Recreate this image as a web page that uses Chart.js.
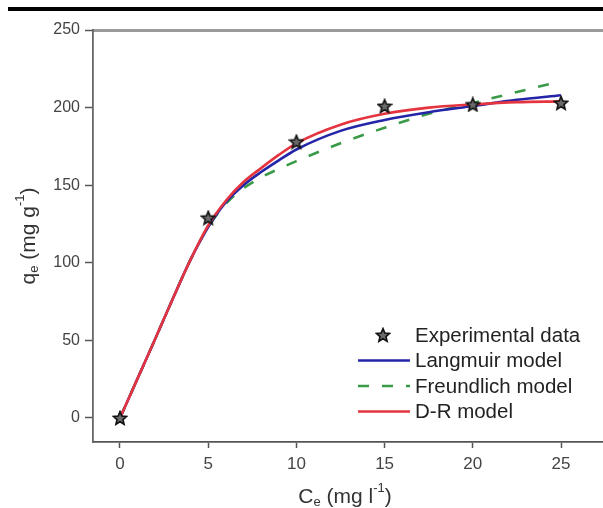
<!DOCTYPE html>
<html><head><meta charset="utf-8">
<script src="https://cdn.jsdelivr.net/npm/chart.js@4"></script>
<style>
html,body{margin:0;padding:0;background:#fff;overflow:hidden}
#wrap{position:relative;width:603px;height:508px;background:#fff}
#bar{position:absolute;left:8px;top:7px;width:595px;height:4px;background:#000}
canvas{position:absolute;left:0;top:0}
</style></head>
<body><div id="wrap"><canvas id="c" width="603" height="508"></canvas><div id="bar"></div></div>
<script>
// ---- data ----
const expX = [0, 5, 10, 15, 20, 25];
const expY = [0, 129, 178, 201, 202, 203];
const modelX = [0, 1, 2, 3, 4, 5, 6, 7, 8, 9, 10, 12.5, 15, 17.5, 20, 22.5, 25];
const langmuirY   = [0, 25.5, 51, 77, 102, 123, 139, 150, 158.5, 166, 173, 185, 192, 197, 201, 205, 208];
const freundlichY = [0, 25.5, 51, 77, 102, 123, 138, 148, 155, 160.5, 165.5, 177, 187, 196, 203, 210, 217];
const drY         = [0, 25.5, 51, 77, 102, 124, 140, 152, 161, 169.5, 177, 189, 196, 200, 202, 203.5, 204];
const xTicks = [0, 5, 10, 15, 20, 25];
const yTicks = [0, 50, 100, 150, 200, 250];
const seriesLabels = ['Experimental data', 'Langmuir model', 'Freundlich model', 'D-R model'];
const xTitle = [['C',0],['e',1],[' (mg l',0],['-1',-1],[')',0]];
const yTitle = [['q',0],['e',1],[' (mg g',0],['-1',-1],[')',0]];

const FONT = '"Liberation Sans", Arial, sans-serif';

function makeStar(size){
  const c = document.createElement('canvas'); c.width = c.height = size;
  const g = c.getContext('2d');
  const cx = size/2, cy = size/2 + 0.6, R = size/2 - 1, r = R*0.45;
  g.beginPath();
  for (let i = 0; i < 10; i++){
    const a = -Math.PI/2 + i*Math.PI/5, rr = i%2 ? r : R;
    g.lineTo(cx + rr*Math.cos(a), cy + rr*Math.sin(a));
  }
  g.closePath();
  g.fillStyle = '#6a6a6a'; g.fill();
  g.strokeStyle = '#111'; g.lineWidth = 1.6; g.stroke();
  return c;
}
const star = makeStar(16);

const pts = (xs, ys) => xs.map((x, i) => ({x, y: ys[i]}));

function richText(ctx, parts, size){
  let w = 0;
  const items = parts.map(([t, s]) => {
    const fs = s === 0 ? size : Math.round(size*0.62);
    ctx.font = fs + 'px ' + FONT;
    const tw = ctx.measureText(t).width;
    const it = {t, s, fs, x: w}; w += tw; return it;
  });
  items.forEach(it => {
    ctx.font = it.fs + 'px ' + FONT;
    const dy = it.s === 1 ? size*0.28 : (it.s === -1 ? -size*0.42 : 0);
    ctx.fillText(it.t, it.x - w/2, dy);
  });
}

const decor = {
  id: 'decor',
  afterDraw(chart){
    const {ctx, chartArea: ca} = chart;
    ctx.save();
    ctx.fillStyle = '#333';
    ctx.textBaseline = 'middle';
    ctx.textAlign = 'left';
    // x title
    ctx.save(); ctx.translate((ca.left + ca.right)/2 - 3, 497); richText(ctx, xTitle, 21); ctx.restore();
    // y title
    ctx.save(); ctx.translate(29, (ca.top + ca.bottom)/2); ctx.rotate(-Math.PI/2); richText(ctx, yTitle, 21); ctx.restore();
    // legend
    const lx = ca.right - 245, ly0 = ca.bottom - 107, dy = 25.5;
    const ds = chart.data.datasets;
    [0, 1, 2, 3].forEach((i, row) => {
      const d = ds[i], y = ly0 + row*dy;
      if (i === 0){
        ctx.drawImage(star, lx + 25 - 8, y - 8);
      } else {
        ctx.save();
        ctx.strokeStyle = d.borderColor; ctx.lineWidth = d.borderWidth;
        ctx.setLineDash(d.borderDash || []);
        ctx.beginPath(); ctx.moveTo(lx, y); ctx.lineTo(lx + 52, y); ctx.stroke();
        ctx.restore();
      }
      ctx.fillStyle = '#222';
      ctx.font = '20.5px ' + FONT;
      ctx.fillText(d.label, lx + 57, y + 1);
    });
    ctx.restore();
  }
};

new Chart(document.getElementById('c'), {
  type: 'line',
  data: {
    datasets: [
      { label: seriesLabels[0], data: pts(expX, expY), showLine: false,
        pointStyle: star, pointRadius: 8, order: 0 },
      { label: seriesLabels[1], data: pts(modelX, langmuirY), borderColor: '#2424a8',
        borderWidth: 2.6, pointRadius: 0, cubicInterpolationMode: 'monotone', order: 2 },
      { label: seriesLabels[2], data: pts(modelX, freundlichY), borderColor: '#3a9a48',
        borderWidth: 2.6, borderDash: [11, 13], pointRadius: 0, cubicInterpolationMode: 'monotone', order: 3 },
      { label: seriesLabels[3], data: pts(modelX, drY), borderColor: '#e4343f',
        borderWidth: 2.6, pointRadius: 0, cubicInterpolationMode: 'monotone', order: 1 }
    ]
  },
  options: {
    responsive: false, animation: false,
    layout: { autoPadding: false, padding: { top: 30, right: 0, left: 0, bottom: 0 } },
    plugins: { legend: { display: false }, tooltip: { enabled: false } },
    scales: {
      x: {
        type: 'linear', position: 'bottom', min: -1.53, max: 27.38,
        afterBuildTicks: s => { s.ticks = xTicks.map(v => ({value: v})); },
        afterFit: s => { s.height = 66; },
        grid: { drawOnChartArea: false, drawTicks: true, tickLength: 6, tickColor: '#555', tickWidth: 1.5 },
        border: { color: '#555', width: 1.8 },
        ticks: { color: '#444', font: { family: FONT, size: 17 }, padding: 6, maxRotation: 0 }
      },
      x2: {
        type: 'linear', position: 'top', min: -1.53, max: 27.38,
        afterFit: s => { s.height = 0; },
        grid: { display: false, drawOnChartArea: false, drawTicks: false },
        border: { color: '#9a9a9a', width: 3 },
        ticks: { display: false }
      },
      y: {
        type: 'linear', position: 'left', min: -15.5, max: 250,
        afterBuildTicks: s => { s.ticks = yTicks.map(v => ({value: v})); },
        afterFit: s => { s.width = 93; },
        grid: { drawOnChartArea: false, drawTicks: true, tickLength: 8, tickColor: '#555', tickWidth: 1.5 },
        border: { color: '#666', width: 1.8 },
        ticks: { color: '#444', font: { family: FONT, size: 16 }, padding: 5 }
      }
    }
  },
  plugins: [decor]
});
</script>
</body></html>
